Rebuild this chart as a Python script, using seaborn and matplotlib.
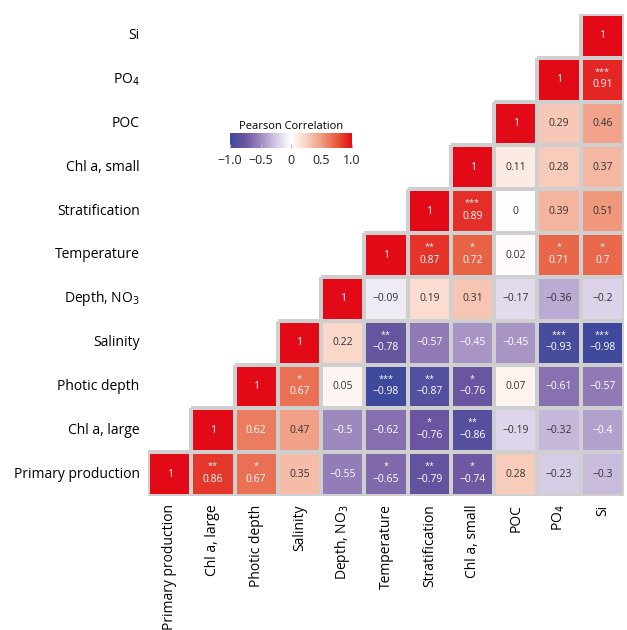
import numpy as np
import pandas as pd
import matplotlib
matplotlib.use("Agg")
import matplotlib.pyplot as plt
import seaborn as sns
from matplotlib.colors import LinearSegmentedColormap

variables = ["Primary production", "Chl a, large", "Photic depth", "Salinity",
             "Depth, NO$_3$", "Temperature", "Stratification", "Chl a, small",
             "POC", "PO$_4$", "Si"]

# upper-triangle correlations (row variable vs. itself and later variables)
r_primary = [1, 0.86, 0.67, 0.35, -0.55, -0.65, -0.79, -0.74, 0.28, -0.23, -0.3]
r_chl_large = [1, 0.62, 0.47, -0.5, -0.62, -0.76, -0.86, -0.19, -0.32, -0.4]
r_photic = [1, 0.67, 0.05, -0.98, -0.87, -0.76, 0.07, -0.61, -0.57]
r_salinity = [1, 0.22, -0.78, -0.57, -0.45, -0.45, -0.93, -0.98]
r_depth_no3 = [1, -0.09, 0.19, 0.31, -0.17, -0.36, -0.2]
r_temperature = [1, 0.87, 0.72, 0.02, 0.71, 0.7]
r_stratification = [1, 0.89, 0, 0.39, 0.51]
r_chl_small = [1, 0.11, 0.28, 0.37]
r_poc = [1, 0.29, 0.46]
r_po4 = [1, 0.91]
r_si = [1]

s_primary = ["", "**", "*", "", "", "*", "**", "*", "", "", ""]
s_chl_large = ["", "", "", "", "", "*", "**", "", "", ""]
s_photic = ["", "*", "", "***", "**", "*", "", "", ""]
s_salinity = ["", "", "**", "", "", "", "***", "***"]
s_depth_no3 = ["", "", "", "", "", "", ""]
s_temperature = ["", "**", "*", "", "*", "*"]
s_stratification = ["", "***", "", "", ""]
s_chl_small = ["", "", "", ""]
s_poc = ["", "", ""]
s_po4 = ["", "***"]
s_si = [""]

rows_r = [r_primary, r_chl_large, r_photic, r_salinity, r_depth_no3, r_temperature,
          r_stratification, r_chl_small, r_poc, r_po4, r_si]
rows_s = [s_primary, s_chl_large, s_photic, s_salinity, s_depth_no3, s_temperature,
          s_stratification, s_chl_small, s_poc, s_po4, s_si]

n = len(variables)
mat = np.full((n, n), np.nan)
stars = [["" for _ in range(n)] for _ in range(n)]
for i in range(n):
    for k, v in enumerate(rows_r[i]):
        mat[i, i + k] = v
        stars[i][i + k] = rows_s[i][k]

# display: top row = last variable
disp = mat[::-1, :]
disp_stars = stars[::-1]
df = pd.DataFrame(disp, index=variables[::-1], columns=variables)
mask = np.isnan(disp)

cmap = LinearSegmentedColormap.from_list("pc", [
    (0.0, (60/255, 72/255, 155/255)),
    (0.125, (108/255, 86/255, 160/255)),
    (0.25, (158/255, 136/255, 190/255)),
    (0.375, (212/255, 200/255, 228/255)),
    (0.5, (1, 1, 1)),
    (0.625, (248/255, 210/255, 195/255)),
    (0.75, (240/255, 155/255, 128/255)),
    (0.875, (231/255, 92/255, 62/255)),
    (1.0, (226/255, 10/255, 22/255)),
])

plt.rcParams['font.family'] = ['Open Sans', 'DejaVu Sans']
fig = plt.figure(figsize=(6.27, 6.30), dpi=100)
ax = fig.add_axes([148/627, 1 - 496/630, 476/627, 482/630])
cax = fig.add_axes([230/627, 1 - 148/630, 122/627, 15/630])

sns.heatmap(df, mask=mask, cmap=cmap, vmin=-1, vmax=1, ax=ax, cbar_ax=cax,
            cbar_kws={"orientation": "horizontal", "ticks": [-1, -0.5, 0, 0.5, 1]},
            linewidths=1.5, linecolor="#cfcfcf", square=False)

# hide edges of masked cells
mesh = ax.collections[0]
edge = np.zeros((n * n, 4))
gray = np.array([0.81, 0.81, 0.81, 1.0])
for idx, m in enumerate(mask.ravel()):
    edge[idx] = (0, 0, 0, 0) if m else gray
mesh.set_edgecolor(edge)

for r in range(n):
    for c in range(n):
        v = disp[r, c]
        if np.isnan(v):
            continue
        col = "white" if (v >= 0.6 or v <= -0.4) else "#333333"
        if v == 1:
            txt = "1"
        elif v == 0:
            txt = "0"
        else:
            txt = f"{v:g}".replace("-", "\u2212")
        st = disp_stars[r][c]
        if st:
            ax.text(c + 0.5, r + 0.62, txt, ha="center", va="center", fontsize=7.5, color=col)
            ax.text(c + 0.5, r + 0.33, st, ha="center", va="center", fontsize=6.5, color="white")
        else:
            ax.text(c + 0.5, r + 0.5, txt, ha="center", va="center", fontsize=7.5, color=col)

ax.tick_params(axis="both", length=0, labelsize=10, pad=6)
ax.set_xticklabels(variables, rotation=90, va="top", ha="center")
ax.set_yticklabels(variables[::-1], rotation=0)
ax.set_xlabel("")
ax.set_ylabel("")

cax.set_title("Pearson Correlation", fontsize=8, pad=3)
cax.tick_params(axis="x", direction="in", length=3, color="#bbbbbb", labelsize=9,
                labelcolor="#222222", pad=4)
cax.set_xticklabels(["\u22121.0", "\u22120.5", "0", "0.5", "1.0"])
for s in cax.spines.values():
    s.set_visible(False)

fig.savefig("out.png", dpi=100)
